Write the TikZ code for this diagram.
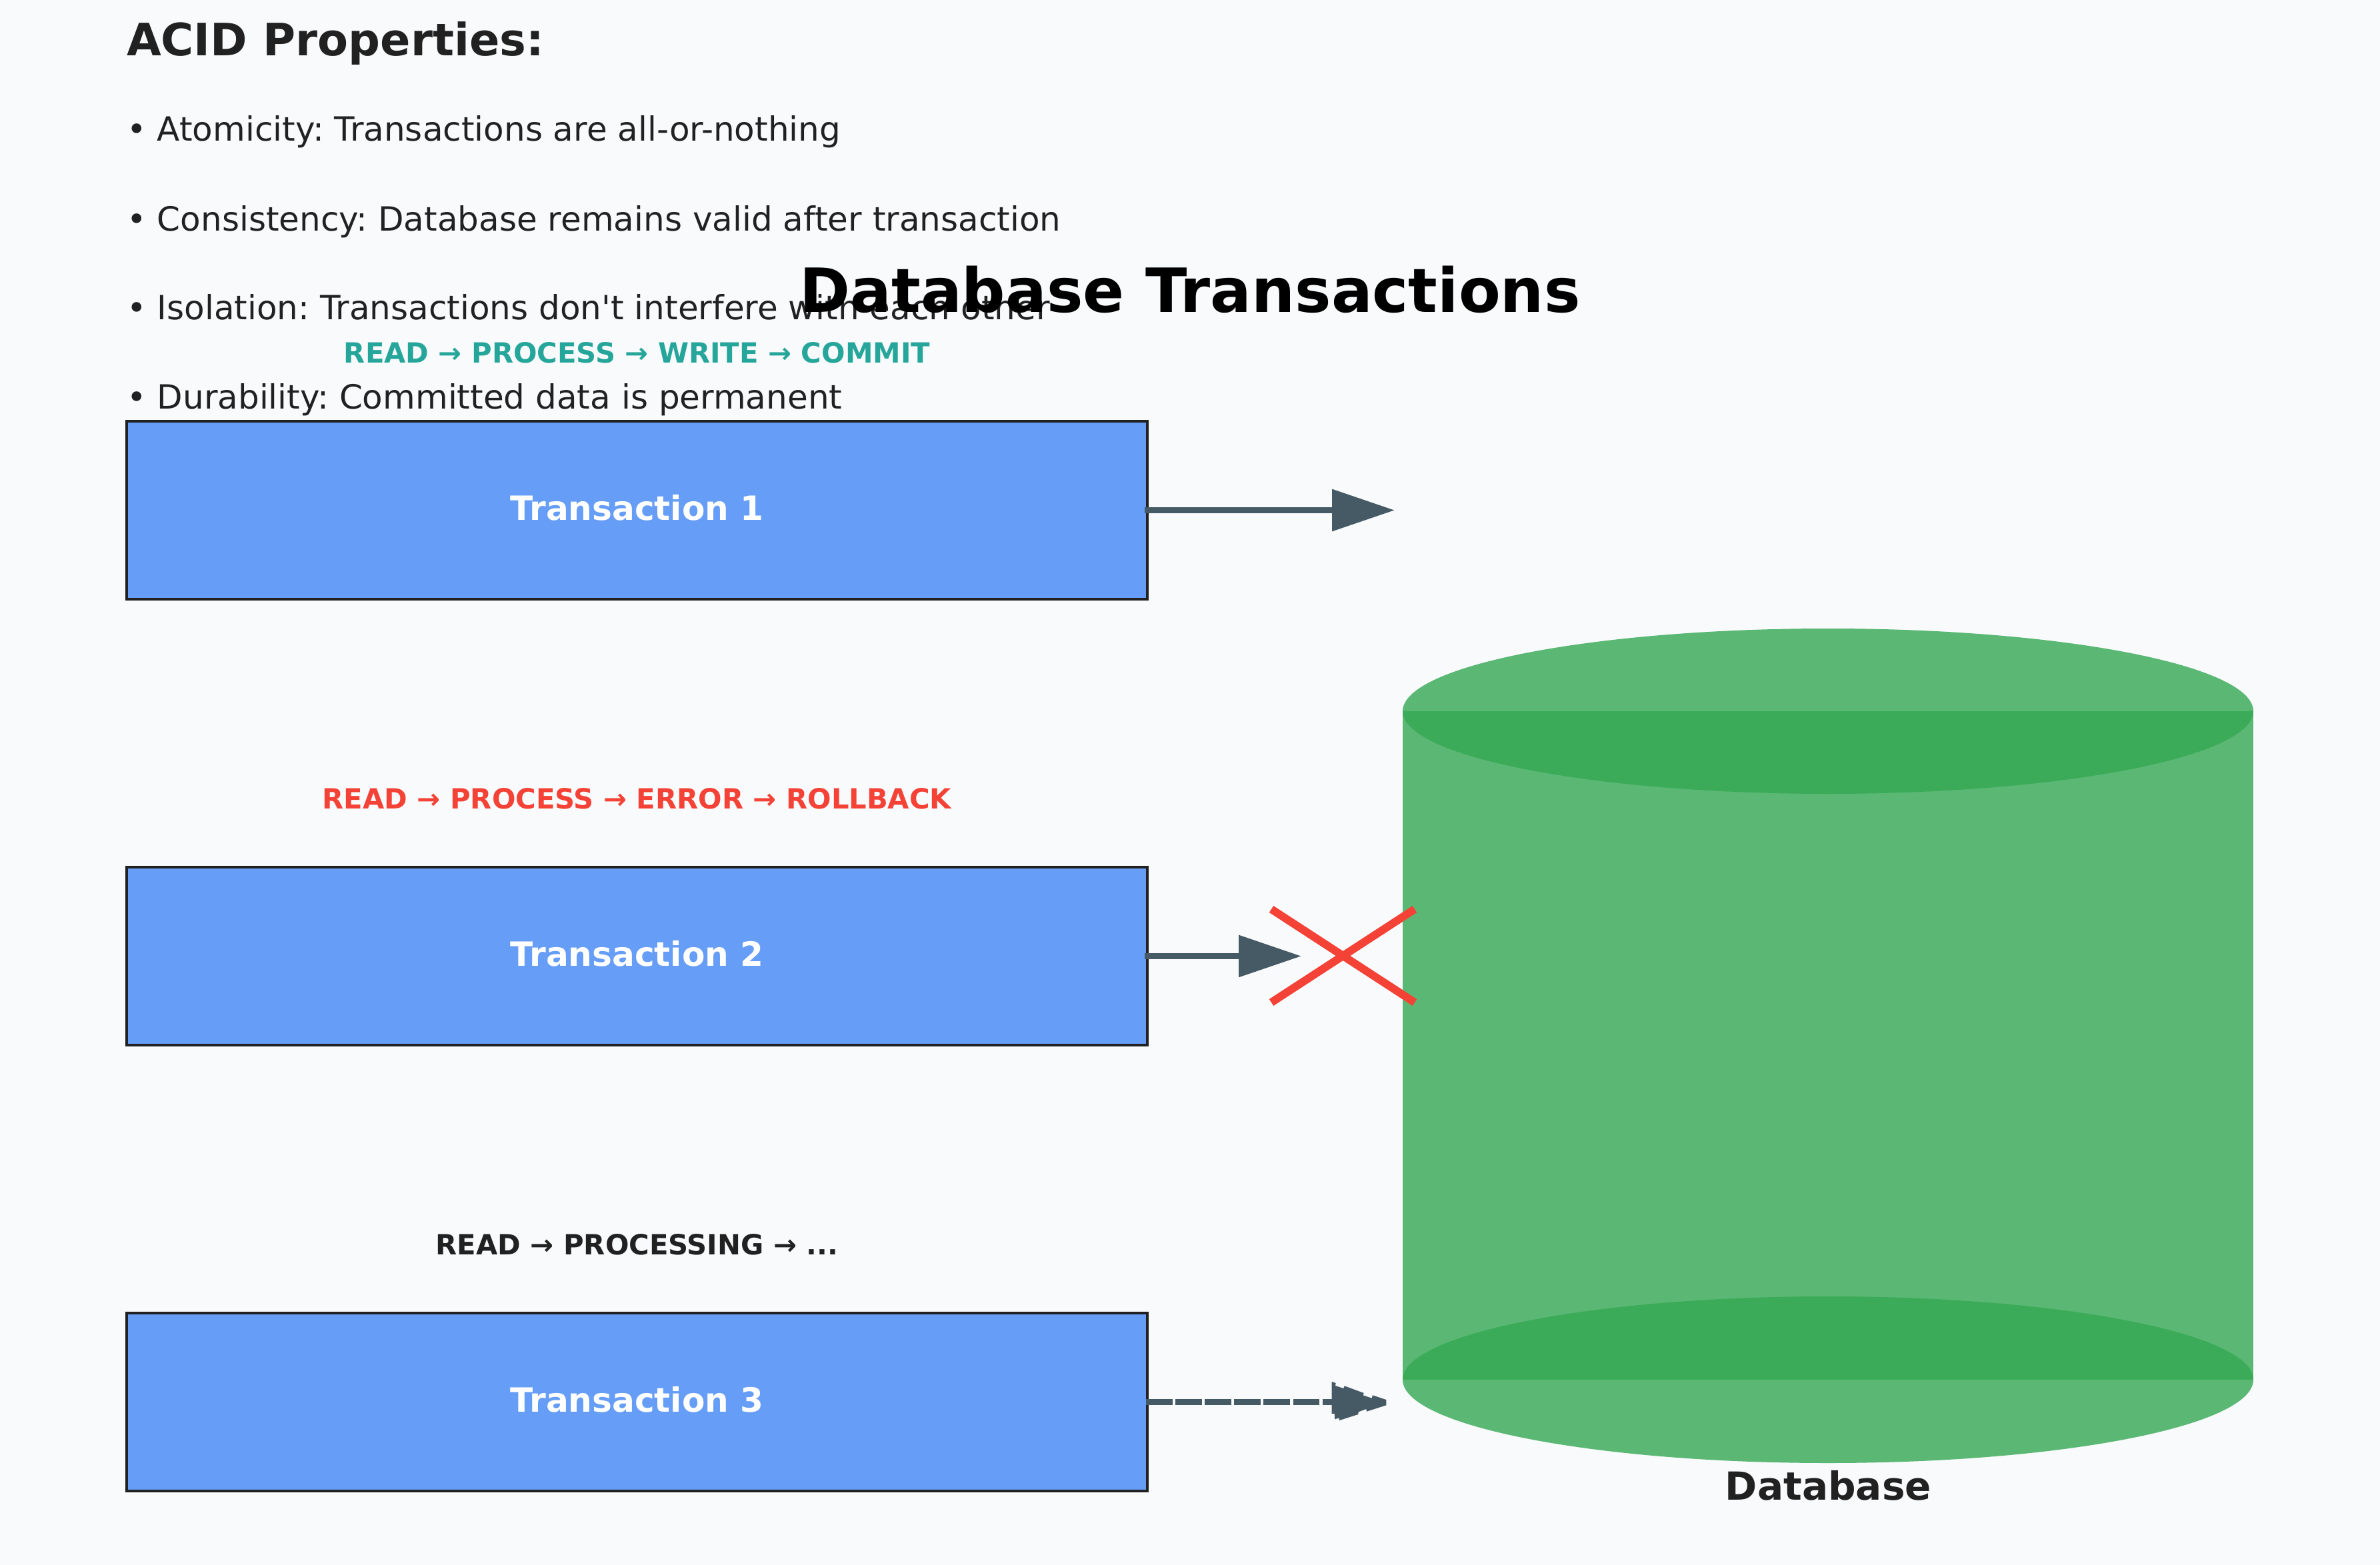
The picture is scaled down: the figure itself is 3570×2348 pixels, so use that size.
\documentclass[tikz,border=0pt]{standalone}
\usepackage{fontspec}
\setmainfont{DejaVu Sans}
\newfontfamily\plainfont{DejaVu Sans}
\usetikzlibrary{arrows.meta,calc}
\definecolor{paper}{HTML}{F8FAFC}
\definecolor{ink}{HTML}{212121}
\definecolor{boxblue}{HTML}{669DF6}
\definecolor{dbgreen}{HTML}{34A853}
\definecolor{slate}{HTML}{455A64}
\definecolor{okteal}{HTML}{26A69A}
\definecolor{failred}{HTML}{F44336}
\newcommand{\bodyfont}{\plainfont\fontsize{50.2}{60}\selectfont}
\newcommand{\stepfont}{\fontsize{41.9}{50}\selectfont\bfseries}
\newcommand{\boxfont}{\fontsize{50.3}{60}\selectfont\bfseries}
\frenchspacing
\tikzset{
  every node/.style={font=\bodyfont,text=ink,inner sep=0pt,outer sep=0pt},
  txbox/.style={draw=ink,fill=boxblue,line width=4.7bp,minimum width=1531bp,minimum height=267bp},
  txlabel/.style={font=\boxfont,text=white},
  flow/.style={draw=slate,line width=9.5bp,-{Triangle[length=94bp,width=61bp]}},
  stepline/.style={font=\stepfont},
  acid/.style={anchor=base west},
  dbpart/.style={fill=dbgreen,fill opacity=.8},
  cross/.style={draw=failred,line width=11.9bp}
}
\begin{document}
\begin{tikzpicture}[x=1bp,y=-1bp]

\path[use as bounding box,fill=paper] (0,0) rectangle (3570,2348);
% Cylinder parts overlap, so the overlap comes out darker.
\fill[dbpart] (2104,1067) rectangle (3380,2070);
\fill[dbpart] (2742,1067) ellipse [x radius=638,y radius=124];
\fill[dbpart] (2742,2070) ellipse [x radius=638,y radius=125];
\node[anchor=base,font=\fontsize{58.3}{60}\selectfont\bfseries] (dblabel) at (2742.5,2250) {Database};

\node[anchor=base west,font=\fontsize{67.2}{70}\selectfont\bfseries] (acidhead) at (190,84) {ACID Properties:};
\node[acid] (atom) at (190.5,212) {• Atomicity: Transactions are all-or-nothing};
\node[acid] (cons) at (190.5,346) {• Consistency: Database remains valid after transaction};
\node[acid] (isol) at (190.5,479) {• Isolation: Transactions don't interfere with each other};
\node[acid] (dura) at (190.5,613) {• Durability: Committed data is permanent};

\node[anchor=base,font=\fontsize{91.8}{95}\selectfont\bfseries,text=black] (title) at (1785,468) {Database Transactions};

\node[txbox] (tx1) at (955.5,765.5) {};
\node[txbox] (tx2) at (955.5,1434.5) {};
\node[txbox] (tx3) at (955.5,2103.5) {};
\node[txlabel] (lab1) at (955.5,761.5) {Transaction 1};
\node[txlabel] (lab2) at (955.5,1430.5) {Transaction 2};
\node[txlabel] (lab3) at (955.5,2099.5) {Transaction 3};
\node[stepline,text=okteal] (steps1) at (955.5,529) {READ → PROCESS → WRITE → COMMIT};
\node[stepline,text=failred] (steps2) at (955.5,1198) {READ → PROCESS → ERROR → ROLLBACK};
\node[stepline] (steps3) at (955.5,1867) {READ → PROCESSING → ...};

\coordinate (end1) at (2092,765.5);
\coordinate (end2) at (1952,1434.5);
\coordinate (headbase) at (1998,2103.5);
\draw[flow,shorten <=-4bp] (tx1.east) -- (end1);
\draw[flow,shorten <=-4bp] (tx2.east) -- (end2);
% Head of the pending arrow is broken up by the dashes.
\draw[slate,line width=9.5bp,dash pattern=on 39.6bp off 4.5bp,shorten <=-2bp] (tx3.east) -- (headbase);
\fill[slate] (1997.7,2073) -- (2003.7,2075) -- (2003,2079) -- (2015.3,2083) -- (2016.7,2079.3)
  -- (2045.7,2090) -- (2044.7,2093.3) -- (2057.7,2097.7) -- (2059,2093.3) -- (2079.3,2100)
  -- (2079.3,2108.3) -- (2050,2117.7) -- (2049.3,2114) -- (2037.7,2118.3) -- (2037.3,2122)
  -- (2009,2131) -- (2008.3,2127.3) -- (2002.3,2129.3) -- (2001.7,2121) -- (1997.7,2121) -- cycle;

\coordinate (xa) at (1907,1364);
\coordinate (xb) at (2122,1504);
\coordinate (xc) at (1907,1504);
\coordinate (xd) at (2122,1364);
\draw[cross] (xa) -- (xb);
\draw[cross] (xc) -- (xd);
\end{tikzpicture}
\end{document}
